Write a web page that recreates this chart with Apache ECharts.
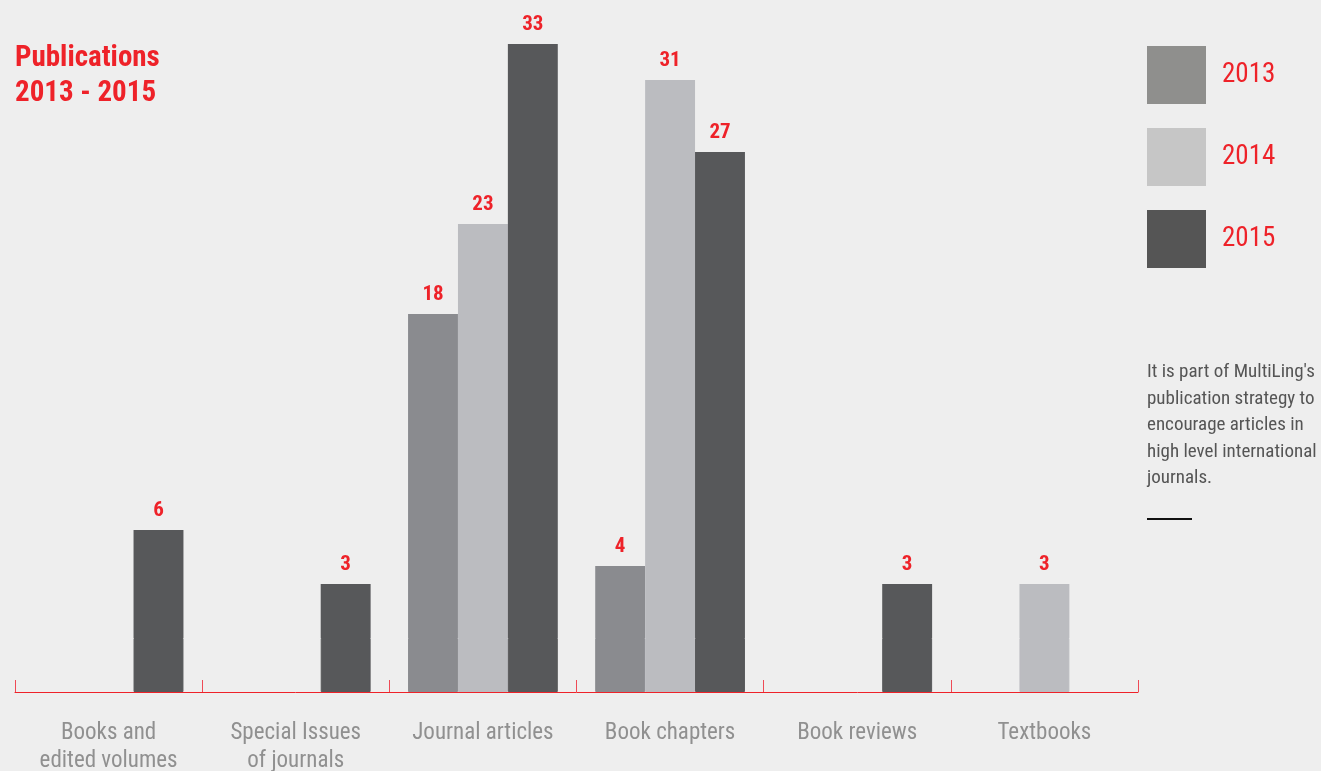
<!DOCTYPE html>
<html>
<head>
<meta charset="utf-8">
<script src="https://cdn.jsdelivr.net/npm/echarts@6/dist/echarts.min.js"></script>
<style>html,body{margin:0;padding:0;background:#eeeeee;}#c{width:1321px;height:771px;}</style>
</head>
<body>
<div id="c"></div>
<script>
const categories = ['Books and\nedited volumes', 'Special Issues\nof journals', 'Journal articles', 'Book chapters', 'Book reviews', 'Textbooks'];
const years = ['2013', '2014', '2015'];
const values2013 = [null, null, 18, 4, null, null];
const values2014 = [null, null, 23, 31, null, 3];
const values2015 = [6, 3, 33, 27, 3, null];
const BASE = 3; // visual lift of bars above the baseline
const noteText = "It is part of MultiLing's\npublication strategy to\nencourage articles in\nhigh level international\njournals.";

const FONT = '"Liberation Sans Narrow", "Roboto Condensed", Roboto, sans-serif';
const barColors = ['#8a8b8f', '#bbbcc0', '#57585a'];
const legendColors = ['#8f8f8d', '#c6c6c6', '#555555'];
const allValues = [values2013, values2014, values2015];

const series = [];
years.forEach((y, i) => {
  series.push({
    name: 'base' + y, type: 'bar', stack: 's' + y,
    data: allValues[i].map(v => v == null ? null : BASE),
    itemStyle: { color: barColors[i], borderColor: barColors[i], borderWidth: 1 },
    barGap: '0%', barCategoryGap: '20%',
    silent: true
  });
  series.push({
    name: y, type: 'bar', stack: 's' + y,
    data: allValues[i],
    itemStyle: { color: barColors[i] }, barGap: '0%', barCategoryGap: '20%',
    label: { show: true, position: 'top', distance: 9, color: '#ee2229', fontFamily: FONT, fontWeight: 'bold', fontSize: 21 }
  });
});

const chart = echarts.init(document.getElementById('c'));
chart.setOption({
  backgroundColor: '#eeeeee',
  animation: false,
  title: {
    text: 'Publications\n2013 - 2015', left: 15, top: 41, padding: 0,
    textStyle: { color: '#ee2229', fontFamily: FONT, fontWeight: 'bold', fontSize: 29, lineHeight: 35 }
  },
  legend: {
    orient: 'vertical', left: 1147, top: 46, padding: 0,
    itemWidth: 59, itemHeight: 58, itemGap: 24,
    icon: 'rect',
    data: years.map((y, i) => ({ name: y, itemStyle: { color: legendColors[i] } })),
    textStyle: { color: '#ee2229', fontFamily: FONT, fontSize: 27, padding: [0, 0, 0, 11] },
    selectedMode: false
  },
  grid: { left: 15, right: 183, top: 44, bottom: 79, containLabel: false, outerBoundsMode: 'none' },
  xAxis: {
    type: 'category', data: categories,
    axisLine: { show: true, lineStyle: { color: '#ee2229', width: 1 } },
    axisTick: { show: true, inside: true, length: 12, lineStyle: { color: '#ee4a55', width: 1 } },
    axisLabel: { color: '#909090', fontFamily: FONT, fontSize: 23, lineHeight: 28, margin: 27 }
  },
  yAxis: { type: 'value', min: 0, max: 36, show: false, splitLine: { show: false } },
  graphic: [
    { type: 'text', left: 1147, top: 359, style: { text: noteText, fill: '#555555', font: '19px ' + FONT, lineHeight: 26.5 } },
    { type: 'line', shape: { x1: 1147, y1: 519, x2: 1192, y2: 519 }, style: { stroke: '#111111', lineWidth: 2 } }
  ],
  series: series
});
</script>
</body>
</html>
